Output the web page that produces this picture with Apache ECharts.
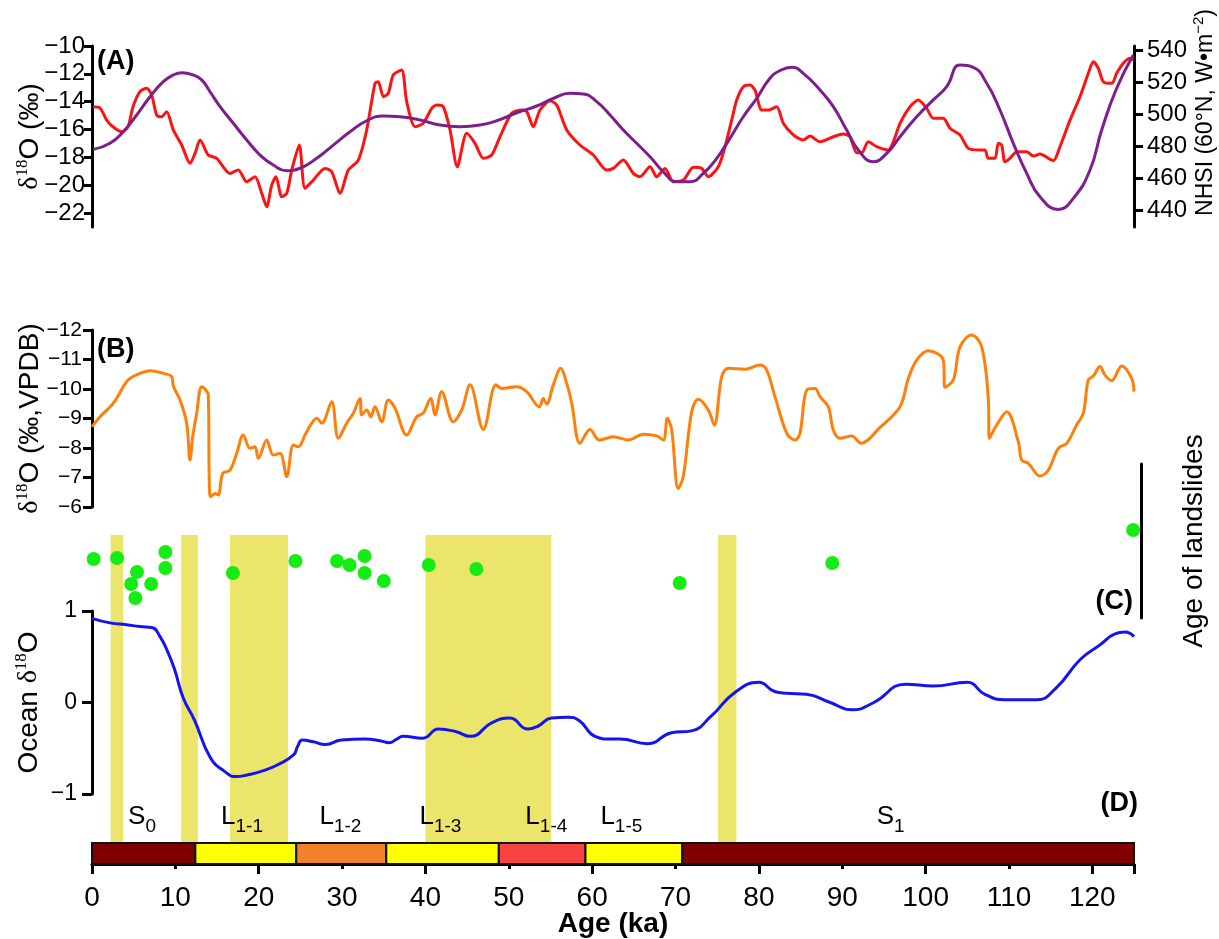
<!DOCTYPE html>
<html><head><meta charset="utf-8">
<script src="https://cdn.jsdelivr.net/npm/echarts@6/dist/echarts.min.js"></script>
<style>html,body{margin:0;padding:0;background:#fff}#c{width:1219px;height:939px}</style>
</head><body><div id="c"></div>
<script>
// ---------- DATA ----------
// Panel A: speleothem d18O (red, left axis)
const redAge = [0.16,0.96,1.76,2.52,3.56,4.32,4.92,5.76,6.56,7.16,7.76,8.36,8.96,9.75,10.76,11.76,12.36,12.96,13.95,14.96,16.55,17.55,18.56,19.55,20.36,20.96,21.56,22.07,22.76,23.36,23.96,24.87,25.55,26.55,27.95,28.76,29.75,30.75,31.95,32.95,33.95,34.35,34.95,35.54,36.14,37.15,37.75,38.75,39.74,40.75,41.35,42.14,42.95,43.82,44.95,45.95,46.94,47.95,48.94,50.35,51.55,52.15,52.94,53.74,54.94,55.75,56.95,58.54,60.14,61.74,62.54,63.74,64.94,65.74,66.94,67.74,68.74,69.74,70.94,72.14,73.14,73.93,75.13,75.94,76.74,77.34,78.13,78.93,79.53,80.34,81.13,82.14,82.93,84.13,85.33,86.13,87.33,88.93,90.13,90.93,91.73,92.33,93.13,94.13,95.53,96.13,96.93,98.13,99.13,100.13,100.92,102.12,102.93,104.13,105.12,106.52,107.12,107.52,108.32,108.72,109.13,109.52,110.12,110.93,112.13,112.92,113.72,115.32,116.12,117.32,118.52,119.52,120.12,120.72,121.32,122.33,122.92,123.72,124.52,124.92];
const redD18O = [-14.36,-14.45,-15.32,-15.80,-16.16,-15.80,-14.36,-13.28,-13.04,-13.52,-14.96,-15.08,-14.72,-16.03,-17.11,-18.43,-17.71,-16.75,-17.83,-18.07,-19.15,-18.91,-19.75,-19.39,-20.58,-21.54,-19.99,-19.39,-20.83,-20.58,-18.91,-17.11,-20.22,-19.63,-18.79,-19.03,-20.58,-18.91,-18.19,-16.03,-12.68,-12.56,-13.64,-13.40,-12.08,-11.72,-14.0,-15.80,-15.55,-14.48,-14.24,-14.36,-16.03,-18.67,-16.27,-16.99,-18.07,-17.83,-16.52,-14.83,-14.60,-14.72,-15.80,-14.60,-13.93,-14.24,-16.03,-17.11,-17.83,-18.91,-18.79,-18.19,-19.15,-19.39,-18.67,-19.39,-18.79,-19.75,-19.63,-18.71,-18.79,-19.39,-18.67,-17.23,-15.32,-13.88,-12.92,-12.80,-13.16,-14.60,-14.60,-14.36,-15.55,-16.39,-16.75,-16.47,-16.88,-16.52,-16.32,-16.52,-17.67,-17.67,-16.88,-17.23,-17.47,-16.88,-15.55,-14.36,-13.88,-14.48,-15.19,-15.19,-15.91,-16.39,-17.35,-17.47,-17.47,-18.07,-18.07,-16.99,-17.11,-18.31,-18.07,-17.59,-17.59,-17.90,-17.76,-18.24,-17.23,-15.32,-13.64,-11.96,-11.13,-11.60,-12.56,-12.68,-11.96,-11.24,-10.88,-11.01];
// Panel A: NHSI 60N insolation (purple, right axis)
const nhsiAge = [0.16,2.16,3.75,5.36,6.96,8.55,9.75,10.76,12.15,13.16,14.16,15.36,16.95,18.56,20.15,21.75,23.36,24.95,26.96,28.95,30.95,32.95,34.95,36.95,39.35,41.75,44.15,46.55,48.55,50.95,53.35,55.34,57.34,58.93,60.54,62.14,63.74,65.34,66.94,68.54,70.14,71.74,73.33,74.94,76.53,78.13,79.74,81.33,82.53,83.94,85.33,87.33,88.93,90.53,91.93,93.73,95.33,96.93,98.93,100.92,102.53,104.13,105.72,107.33,108.92,110.52,112.13,113.72,115.92,117.72,119.72,121.12,122.92,124.92];
const nhsiVal = [477.9,481.7,488.9,499.4,510.8,520.2,524.4,525.8,524.4,521.3,513.9,504.6,494.2,483.8,474.4,468.1,464.6,466.1,472.3,480.6,488.9,495.8,498.8,498.3,496.3,493.1,492.1,493.1,495.8,500.8,505.0,509.8,512.9,512.5,507.7,499.4,490.0,481.7,473.3,463.9,457.7,457.7,462.9,472.3,484.8,498.3,509.8,522.3,527.1,529.2,525.4,515.0,504.6,490.0,477.5,470.2,475.4,485.8,498.3,508.8,517.1,530.6,529.2,519.2,502.5,481.7,462.9,448.3,440.4,447.3,465.0,490.0,516.1,536.9];
// Panel B: d18O (VPDB) (orange)
const vpdbAge = [0,0.96,2.56,4.35,5.76,6.96,8.55,9.56,9.75,10.56,11.36,11.76,12.08,12.56,13.16,13.95,14.07,14.24,14.76,15.15,15.68,16.55,17.36,18.15,18.95,19.55,19.95,20.96,21.75,22.55,23.36,24.15,24.75,25.55,26.36,26.96,27.56,28.75,29.55,30.55,31.35,32.15,32.35,32.95,33.43,33.95,34.75,35.55,36.35,37.75,38.95,39.74,40.63,41.15,41.95,43.34,44.35,45.35,46.94,48.46,49.15,50.95,52.15,53.66,54.14,54.55,55.34,56.23,56.95,57.55,58.54,59.74,60.86,62.54,64.34,66.14,67.74,68.54,69.02,69.54,70.33,70.93,71.94,72.73,73.93,74.65,75.54,76.33,78.33,80.13,80.94,81.93,83.34,84.33,84.93,85.74,86.73,87.33,88.33,88.93,89.73,91.14,92.25,94.53,96.93,97.93,98.93,100.32,102.12,102.33,103.33,104.13,105.53,106.73,107.52,107.64,108.53,109.73,111.12,111.53,112.32,113.72,114.72,115.92,116.93,118.12,118.92,119.52,120.12,120.92,121.52,122.32,123.52,124.72,125.0];
const vpdbVal = [-8.72,-9.06,-9.52,-10.31,-10.53,-10.62,-10.53,-10.42,-10.10,-9.63,-8.84,-7.59,-8.38,-9.18,-10.08,-9.80,-6.80,-6.35,-6.46,-6.41,-7.14,-7.25,-7.82,-8.44,-7.99,-8.04,-7.65,-8.27,-7.76,-7.82,-7.03,-8.10,-8.04,-8.44,-8.84,-9.01,-8.84,-9.57,-8.33,-8.84,-9.18,-9.68,-9.12,-9.29,-9.06,-9.40,-8.89,-9.63,-9.35,-8.44,-9.06,-9.18,-9.68,-9.12,-9.91,-8.89,-9.29,-10.14,-8.63,-10.14,-10.02,-10.08,-9.91,-9.40,-9.68,-9.49,-10.14,-10.70,-10.19,-9.52,-8.16,-8.63,-8.27,-8.38,-8.27,-8.47,-8.41,-8.27,-9.01,-8.61,-6.63,-7.03,-9.23,-9.65,-9.29,-8.78,-10.42,-10.70,-10.67,-10.81,-10.64,-9.74,-8.50,-8.27,-8.50,-9.97,-10.02,-9.74,-9.40,-8.61,-8.33,-8.41,-8.16,-8.70,-9.40,-10.36,-10.98,-11.30,-10.98,-10.06,-10.31,-11.43,-11.83,-11.43,-9.68,-8.33,-8.78,-9.23,-8.21,-7.59,-7.48,-7.05,-7.25,-7.99,-8.16,-8.78,-9.18,-10.31,-10.44,-10.76,-10.47,-10.28,-10.78,-10.36,-9.91];
// Panel C: ages of landslides (green dots), vertical rank is arbitrary
const slideAge  = [0.2,3.0,5.4,4.7,5.2,7.1,8.8,8.8,16.9,24.4,29.4,30.9,32.7,32.7,35.0,40.4,46.1,70.5,88.8,124.9];
const slideRank = [38.3,39.0,29.9,22.1,13.0,22.1,42.9,32.5,29.2,37.0,37.0,34.4,40.3,29.2,24.0,34.4,31.8,22.7,35.7,57.1];
// Last glacial period intervals
const lgpStart = [2.24,10.7,16.55,40.0,75.1];
const lgpEnd   = [3.75,12.7,23.5,55.1,77.3];
const lgpNames = ['LGP IV','LGP III','LGP II','LGP I'];
const lgpNameAge = [11.75,21.8,47.9,77.0];
const lgpCaption = 'Last glacial period(LGP)';
const lgpCaptionAge = 104.1;
const labelRank = 61;
// Panel D: ocean d18O (blue)
const oceanAge = [0,2.16,4.16,5.76,7.16,8.16,9.15,9.91,10.95,12.28,14.19,15.86,17.29,18.71,20.38,22.29,24.20,24.66,25.24,26.57,28.00,29.91,32.76,34.67,35.62,36.56,37.28,39.66,41.57,43.70,45.37,47.99,50.13,52.28,53.47,55.13,57.04,58.47,60.36,62.27,63.32,66.65,69.51,71.90,74.27,77.12,79.98,81.89,83.32,85.69,88.56,91.17,93.79,97.60,100.92,104.98,107.11,109.50,113.30,115.67,118.55,120.92,122.72,123.92,125.0];
const oceanVal = [0.92,0.87,0.85,0.83,0.82,0.72,0.54,0.36,0.05,-0.19,-0.60,-0.75,-0.81,-0.79,-0.75,-0.68,-0.57,-0.48,-0.41,-0.43,-0.46,-0.41,-0.40,-0.42,-0.44,-0.40,-0.37,-0.39,-0.29,-0.32,-0.37,-0.22,-0.17,-0.29,-0.26,-0.17,-0.16,-0.20,-0.37,-0.40,-0.40,-0.45,-0.33,-0.31,-0.15,0.11,0.22,0.12,0.10,0.09,0.00,-0.08,0.00,0.20,0.18,0.22,0.09,0.03,0.03,0.16,0.47,0.63,0.75,0.77,0.72];
// Stratigraphy (loess-palaeosol units)
const stratBounds = [0,12.4,24.5,35.3,48.8,59.2,70.8,125];
const stratMain = ['S','L','L','L','L','L','S'];
const stratSub  = ['0','1-1','1-2','1-3','1-4','1-5','1'];
const stratLabelAge = [6,18,29.8,41.8,54.5,63.5,95.8];
// Tick labels
const ticksA = [-22,-20,-18,-16,-14,-12,-10];
const ticksNHSI = [440,460,480,500,520,540];

// ---------- STYLE ----------
const FONT = "'Liberation Sans', Arial, sans-serif";
const SERIF = "'Liberation Serif', 'Times New Roman', serif";
const STRAT_COLORS = ['#800000','#ffff00','#f0832a','#ffff00','#f94343','#ffff00','#800000'];
const minus = v => String(v).replace('-', '\u2212');
const zip = (a, b) => a.map((x, i) => [x, b[i]]);
const mkRich = (F, S, LH) => ({
  t: {fontSize: F, fontFamily: FONT, color: '#000', lineHeight: F, verticalAlign: 'bottom'},
  d: {fontSize: F, fontFamily: SERIF, color: '#000', lineHeight: F, verticalAlign: 'bottom'},
  s: {fontSize: S, fontFamily: SERIF, color: '#000', lineHeight: LH, verticalAlign: 'top'},
  u: {fontSize: S, fontFamily: FONT, color: '#000', lineHeight: LH, verticalAlign: 'top'}
});
const nameRich = mkRich(28, 17, 30);
const axisLine = {show: true, onZero: false, lineStyle: {color: '#000', width: 3}};
const hiddenX = gi => ({type: 'value', gridIndex: gi, min: 0, max: 125, show: false});
const L = 92, R = 85;
const G = (top, height) => ({left: L, right: R, top: top, height: height, outerBoundsMode: 'none', containLabel: false});

const chart = echarts.init(document.getElementById('c'), null, {renderer: 'canvas'});
chart.setOption({
  animation: false,
  backgroundColor: '#fff',
  textStyle: {fontFamily: FONT},
  grid: [G(46, 181), G(330, 177), G(464, 154), G(535, 308), G(611, 183), G(843, 21)],
  xAxis: [
    hiddenX(0), hiddenX(1), hiddenX(2), hiddenX(3), hiddenX(4),
    {type: 'value', gridIndex: 5, min: 0, max: 125, interval: 10, position: 'bottom',
     axisLine: axisLine, splitLine: {show: false},
     axisTick: {show: true, length: 5, lineStyle: {color: '#000', width: 3}},
     axisLabel: {fontSize: 28, color: '#000', margin: 20, fontFamily: FONT,
       formatter: v => v > 120 ? '' : String(v)},
     name: 'Age (ka)', nameLocation: 'middle', nameGap: 46, nameMoveOverlap: false,
     nameTextStyle: {fontSize: 28, fontWeight: 'bold', color: '#000', fontFamily: FONT}},
    {type: 'value', gridIndex: 5, min: 0, max: 125, interval: 20, position: 'bottom',
     axisLine: {show: false}, splitLine: {show: false}, axisLabel: {show: false},
     axisTick: {show: true, length: 10, lineStyle: {color: '#000', width: 3}}}
  ],
  yAxis: [
    {type: 'value', gridIndex: 0, min: -23, max: -10, position: 'left',
     axisLine: axisLine, splitLine: {show: false},
     axisTick: {show: true, length: 8, customValues: ticksA, lineStyle: {color: '#000', width: 3}},
     axisLabel: {customValues: ticksA, fontSize: 24, color: '#000', margin: 7, formatter: minus},
     name: '{d|δ}{s|18}{t|O (‰)}', nameLocation: 'middle', nameGap: 48, nameRotate: 90, nameMoveOverlap: false,
     nameTextStyle: {rich: nameRich}},
    {type: 'value', gridIndex: 0, min: 429.4, max: 542.5, position: 'right',
     axisLine: axisLine, splitLine: {show: false},
     axisTick: {show: true, length: 9, customValues: ticksNHSI, lineStyle: {color: '#000', width: 3}},
     axisLabel: {customValues: ticksNHSI, fontSize: 24, color: '#000', margin: 13},
     name: '{t|NHSI (60°N, W•m}{u|−2}{t|)}', nameLocation: 'middle', nameGap: 57, nameRotate: 90, nameMoveOverlap: false,
     nameTextStyle: {rich: mkRich(23, 15, 26), padding: [0, 0, 0, 48]}},
    {type: 'value', gridIndex: 1, min: -12, max: -6, interval: 1, inverse: true, position: 'left',
     axisLine: axisLine, splitLine: {show: false},
     axisTick: {show: true, length: 9, lineStyle: {color: '#000', width: 3}},
     axisLabel: {fontSize: 21, color: '#000', margin: 10, formatter: minus},
     name: '{d|δ}{s|18}{t|O (‰,VPDB)}', nameLocation: 'middle', nameGap: 48, nameRotate: 90, nameMoveOverlap: false,
     nameTextStyle: {rich: nameRich}},
    {type: 'value', gridIndex: 2, min: 0, max: 100, position: 'right', offset: 7,
     axisLine: axisLine, splitLine: {show: false}, axisTick: {show: false}, axisLabel: {show: false},
     name: 'Age of landslides', nameLocation: 'middle', nameGap: 39, nameRotate: 90, nameMoveOverlap: false,
     nameTextStyle: {fontSize: 28, color: '#000', fontFamily: FONT}},
    {type: 'value', gridIndex: 3, min: 0, max: 1, show: false},
    {type: 'value', gridIndex: 4, min: -1, max: 1, interval: 1, position: 'left',
     axisLine: axisLine, splitLine: {show: false},
     axisTick: {show: true, length: 10, lineStyle: {color: '#000', width: 3}},
     axisLabel: {fontSize: 23, color: '#000', margin: 15, formatter: minus},
     name: '{t|Ocean }{d|δ}{s|18}{t|O}', nameLocation: 'middle', nameGap: 49, nameRotate: 90, nameMoveOverlap: false,
     nameTextStyle: {rich: nameRich}},
    {type: 'value', gridIndex: 5, min: 0, max: 1, show: false}
  ],
  series: [
    {type: 'custom', name: 'LGP', xAxisIndex: 3, yAxisIndex: 4, z: 1, silent: true,
     data: lgpStart.map((s, i) => [s, lgpEnd[i]]),
     renderItem: (params, api) => {
       const p0 = api.coord([api.value(0), 1]);
       const p1 = api.coord([api.value(1), 0]);
       return {type: 'rect', shape: {x: p0[0], y: p0[1], width: p1[0] - p0[0], height: p1[1] - p0[1]},
               style: {fill: '#ece56c'}};
     }},
    {type: 'line', name: 'd18O', xAxisIndex: 0, yAxisIndex: 0, z: 3, data: zip(redAge, redD18O),
     showSymbol: false, smooth: 0.25, lineStyle: {color: '#ff1212', width: 3}},
    {type: 'line', name: 'NHSI', xAxisIndex: 0, yAxisIndex: 1, z: 4, data: zip(nhsiAge, nhsiVal),
     showSymbol: false, smooth: 0.5, lineStyle: {color: '#7d1e8c', width: 3}},
    {type: 'line', name: 'VPDB', xAxisIndex: 1, yAxisIndex: 2, z: 3, data: zip(vpdbAge, vpdbVal),
     showSymbol: false, smooth: 0.35, lineStyle: {color: '#ff7f0a', width: 3}},
    {type: 'scatter', name: 'landslides', xAxisIndex: 2, yAxisIndex: 3, z: 5,
     data: zip(slideAge, slideRank), symbolSize: 14, itemStyle: {color: '#14ec14', opacity: 1}},
    {type: 'scatter', name: 'labels', xAxisIndex: 2, yAxisIndex: 3, z: 6, symbol: 'none',
     data: lgpNames.map((n, i) => ({value: [lgpNameAge[i], labelRank], name: n}))
       .concat([{value: [lgpCaptionAge, labelRank], name: lgpCaption, label: {fontSize: 30}}]),
     label: {show: true, position: 'inside', formatter: p => p.name, fontSize: 24, color: '#000', fontFamily: FONT}},
    {type: 'line', name: 'ocean', xAxisIndex: 4, yAxisIndex: 5, z: 3, data: zip(oceanAge, oceanVal),
     showSymbol: false, smooth: 0.5, lineStyle: {color: '#1414f0', width: 3}},
    {type: 'custom', name: 'strat', xAxisIndex: 5, yAxisIndex: 6, z: 3, silent: true,
     data: stratMain.map((m, i) => [stratBounds[i], stratBounds[i + 1], stratLabelAge[i]]),
     renderItem: (params, api) => {
       const i = params.dataIndex;
       const p0 = api.coord([api.value(0), 1]);
       const p1 = api.coord([api.value(1), 0]);
       const lx = api.coord([api.value(2), 1])[0];
       return {type: 'group', children: [
         {type: 'rect', shape: {x: p0[0], y: p0[1], width: p1[0] - p0[0], height: p1[1] - p0[1]},
          style: {fill: STRAT_COLORS[i], stroke: '#111', lineWidth: 2}},
         {type: 'text', x: lx, y: p0[1] - 7,
          style: {text: '{m|' + stratMain[i] + '}{b|' + stratSub[i] + '}', align: 'center', verticalAlign: 'bottom',
            rich: {m: {fontSize: 26, fontFamily: FONT, fill: '#000', lineHeight: 26, verticalAlign: 'top'},
                   b: {fontSize: 19, fontFamily: FONT, fill: '#000', lineHeight: 32, verticalAlign: 'bottom'}}}}
       ]};
     }}
  ],
  graphic: [
    {type: 'text', left: 97, top: 48, style: {text: '(A)', fontSize: 27, fontWeight: 'bold', fontFamily: FONT, fill: '#000'}},
    {type: 'text', left: 97, top: 336, style: {text: '(B)', fontSize: 27, fontWeight: 'bold', fontFamily: FONT, fill: '#000'}},
    {type: 'text', right: 86, top: 588, style: {text: '(C)', fontSize: 27, fontWeight: 'bold', fontFamily: FONT, fill: '#000'}},
    {type: 'text', right: 81, top: 790, style: {text: '(D)', fontSize: 27, fontWeight: 'bold', fontFamily: FONT, fill: '#000'}}
  ]
});
</script></body></html>
